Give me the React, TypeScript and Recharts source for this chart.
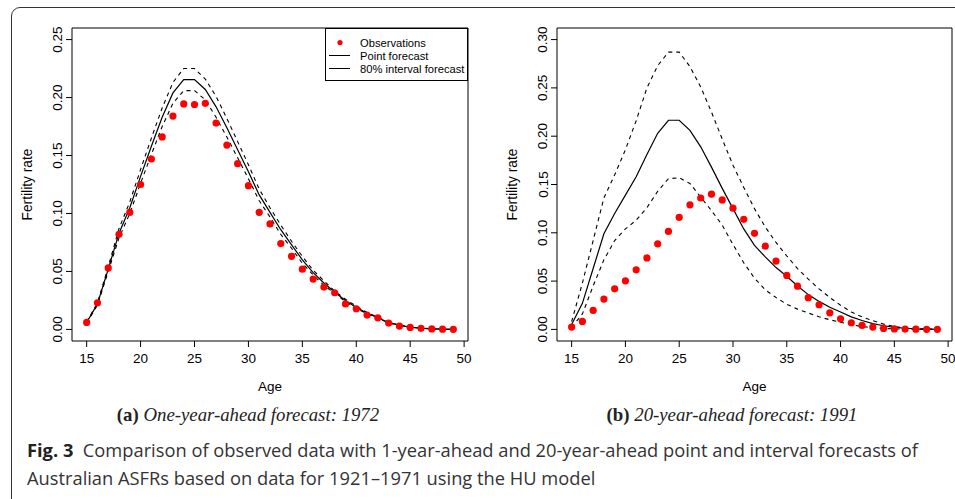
import React from 'react'
import { ComposedChart, Line, XAxis, YAxis, ReferenceArea, Legend } from 'recharts'

const ages = [15, 16, 17, 18, 19, 20, 21, 22, 23, 24, 25, 26, 27, 28, 29, 30, 31, 32, 33, 34, 35, 36, 37, 38, 39, 40, 41, 42, 43, 44, 45, 46, 47, 48, 49]
const xTicks = [15, 20, 25, 30, 35, 40, 45, 50]

// (a) one-year-ahead forecast: 1972
const obsA = [0.006, 0.023, 0.053, 0.082, 0.101, 0.125, 0.147, 0.166, 0.184, 0.1945, 0.194, 0.195, 0.178, 0.159, 0.143, 0.124, 0.101, 0.091, 0.074, 0.063, 0.052, 0.0434, 0.0365, 0.0316, 0.022, 0.0178, 0.0124, 0.01, 0.0055, 0.0029, 0.0017, 0.0009, 0.0004, 0.0002, 0.0001]
const pointA = [0.006, 0.022, 0.052, 0.083, 0.105, 0.132, 0.158, 0.183, 0.204, 0.2155, 0.2155, 0.207, 0.192, 0.174, 0.155, 0.136, 0.116, 0.101, 0.086, 0.073, 0.06, 0.049, 0.04, 0.032, 0.025, 0.019, 0.014, 0.01, 0.006, 0.0035, 0.002, 0.001, 0.0005, 0.0002, 0.0001]
const lowerA = [0.0055, 0.021, 0.05, 0.079, 0.1, 0.126, 0.151, 0.175, 0.195, 0.206, 0.206, 0.198, 0.183, 0.166, 0.148, 0.13, 0.111, 0.097, 0.082, 0.07, 0.057, 0.047, 0.038, 0.031, 0.024, 0.018, 0.0134, 0.0095, 0.0057, 0.0033, 0.0019, 0.0009, 0.0005, 0.0002, 0.0001]
const upperA = [0.0065, 0.023, 0.054, 0.087, 0.11, 0.138, 0.165, 0.191, 0.213, 0.225, 0.225, 0.216, 0.201, 0.182, 0.162, 0.142, 0.121, 0.105, 0.09, 0.076, 0.063, 0.051, 0.042, 0.033, 0.026, 0.02, 0.0146, 0.0105, 0.0063, 0.0037, 0.0021, 0.0011, 0.0005, 0.0002, 0.0001]
const yTicksA = [0, 0.05, 0.1, 0.15, 0.2, 0.25]

// (b) 20-year-ahead forecast: 1991
const obsB = [0.0024, 0.0083, 0.0197, 0.0314, 0.042, 0.0503, 0.0617, 0.074, 0.0886, 0.1014, 0.116, 0.129, 0.136, 0.14, 0.134, 0.1255, 0.114, 0.0995, 0.0862, 0.0707, 0.0559, 0.0448, 0.0328, 0.0255, 0.0172, 0.011, 0.0069, 0.0041, 0.0024, 0.001, 0.0005, 0.0003, 0.0002, 0.0001, 0.0001]
const pointB = [0.005, 0.027, 0.063, 0.099, 0.12, 0.139, 0.158, 0.181, 0.203, 0.2165, 0.2165, 0.206, 0.189, 0.168, 0.146, 0.125, 0.104, 0.087, 0.075, 0.064, 0.055, 0.045, 0.036, 0.029, 0.023, 0.018, 0.013, 0.0092, 0.006, 0.0038, 0.0022, 0.0012, 0.0006, 0.0003, 0.0001]
const lowerB = [0.002, 0.016, 0.045, 0.072, 0.092, 0.104, 0.113, 0.126, 0.143, 0.156, 0.157, 0.151, 0.137, 0.123, 0.108, 0.088, 0.069, 0.053, 0.041, 0.033, 0.026, 0.021, 0.017, 0.013, 0.01, 0.0074, 0.0048, 0.003, 0.0018, 0.001, 0.0005, 0.0003, 0.0001, 0, 0]
const upperB = [0.008, 0.048, 0.092, 0.136, 0.16, 0.186, 0.216, 0.25, 0.273, 0.287, 0.287, 0.272, 0.251, 0.225, 0.197, 0.17, 0.147, 0.125, 0.106, 0.09, 0.076, 0.063, 0.052, 0.042, 0.033, 0.025, 0.018, 0.013, 0.009, 0.0055, 0.003, 0.0017, 0.0009, 0.0004, 0.0002]
const yTicksB = [0, 0.05, 0.1, 0.15, 0.2, 0.25, 0.3]

const legendItems = ['Observations', 'Point forecast', '80% interval forecast']

const rows = (obs: number[], point: number[], lower: number[], upper: number[]) =>
  ages.map((age, i) => ({ age, obs: obs[i], point: point[i], lower: lower[i], upper: upper[i] }))

const AXIS_FONT = '"Liberation Sans", Arial, sans-serif'
const TOP = 28
const BOTTOM = 341

function PanelLegend() {
  return (
    <div
      style={{
        width: 143,
        height: 53,
        boxSizing: 'border-box',
        border: '1px solid #000',
        background: '#fff',
        fontFamily: AXIS_FONT,
        fontSize: 11.2,
        color: '#000',
        paddingTop: 7,
      }}
    >
      {legendItems.map((name, i) => (
        <div key={name} style={{ display: 'flex', alignItems: 'center', height: 13 }}>
          <svg width={34} height={13}>
            {i === 0 ? (
              <circle cx={14} cy={6.5} r={2.6} fill="#ff0000" />
            ) : (
              <line x1={3} x2={24} y1={6.5} y2={6.5} stroke="#000" strokeWidth={1} />
            )}
          </svg>
          <span>{name}</span>
        </div>
      ))}
    </div>
  )
}

interface PanelProps {
  data: ReturnType<typeof rows>
  yDomain: [number, number]
  yTicks: number[]
  width: number
  plotLeft: number
  plotRight: number
  legend?: boolean
}

function Panel({ data, yDomain, yTicks, width, plotLeft, plotRight, legend }: PanelProps) {
  const yAxisW = 40
  const midY = (TOP + BOTTOM) / 2
  const midX = (plotLeft + plotRight) / 2

  const YTick = ({ y, payload }: any) => {
    const bx = plotLeft - 9.5
    return (
      <text
        x={bx}
        y={y}
        transform={`rotate(-90 ${bx} ${y})`}
        textAnchor="middle"
        fontFamily={AXIS_FONT}
        fontSize={13.5}
        fill="#000"
      >
        {payload.value.toFixed(2)}
      </text>
    )
  }

  return (
    <ComposedChart
      width={width}
      height={400}
      data={data}
      margin={{ top: TOP, right: width - plotRight, left: plotLeft - yAxisW, bottom: 400 - BOTTOM - 30 }}
    >
      <XAxis
        dataKey="age"
        type="number"
        domain={[13.64, 50.36]}
        ticks={xTicks}
        allowDataOverflow
        axisLine={false}
        tickLine={{ stroke: '#000' }}
        tickSize={6}
        tickMargin={6}
        height={30}
        tick={{ fill: '#000', fontSize: 13.5, fontFamily: AXIS_FONT }}
        label={{
          content: () => (
            <text x={midX} y={390.5} textAnchor="middle" fontFamily={AXIS_FONT} fontSize={13.5} fill="#000">
              Age
            </text>
          ),
        }}
      />
      <YAxis
        type="number"
        domain={yDomain}
        ticks={yTicks}
        allowDataOverflow
        width={yAxisW}
        axisLine={false}
        tickLine={{ stroke: '#000' }}
        tickSize={6}
        tick={<YTick />}
        label={{
          content: () => (
            <text
              x={plotLeft - 40.5}
              y={midY}
              transform={`rotate(-90 ${plotLeft - 40.5} ${midY})`}
              textAnchor="middle"
              fontFamily={AXIS_FONT}
              fontSize={13.8}
              fill="#000"
            >
              Fertility rate
            </text>
          ),
        }}
      />
      <ReferenceArea
        x1={13.64}
        x2={50.36}
        y1={yDomain[0]}
        y2={yDomain[1]}
        fill="none"
        stroke="#000"
        strokeWidth={1}
        ifOverflow="visible"
      />
      <Line dataKey="upper" stroke="#000" strokeWidth={1.1} strokeDasharray="4 4" dot={false} activeDot={false} isAnimationActive={false} />
      <Line dataKey="lower" stroke="#000" strokeWidth={1.1} strokeDasharray="4 4" dot={false} activeDot={false} isAnimationActive={false} />
      <Line dataKey="point" stroke="#000" strokeWidth={1.2} dot={false} activeDot={false} isAnimationActive={false} />
      <Line
        dataKey="obs"
        stroke="none"
        dot={{ r: 3.6, fill: '#ff0000', stroke: 'none' }}
        activeDot={false}
        isAnimationActive={false}
      />
      {legend && (
        <Legend
          layout="vertical"
          align="center"
          verticalAlign="middle"
          content={() => <PanelLegend />}
          wrapperStyle={{ left: plotRight - 143, top: TOP, width: 143, height: 53 }}
        />
      )}
    </ComposedChart>
  )
}

const serif = '"Liberation Serif", "Times New Roman", serif'

function SubCaption({ label, text, cx }: { label: string; text: string; cx: number }) {
  return (
    <div
      style={{
        position: 'absolute',
        left: cx - 200,
        width: 400,
        top: 405,
        textAlign: 'center',
        fontFamily: serif,
        fontSize: 18.8,
        lineHeight: '19px',
        color: '#222',
        whiteSpace: 'nowrap',
      }}
    >
      <b>{label}</b> <i>{text}</i>
    </div>
  )
}

export default function App() {
  return (
    <div style={{ position: 'absolute', left: 0, top: 0, width: 955, height: 499, overflow: 'hidden', background: '#fff' }}>
      <div
        style={{
          position: 'absolute',
          left: 11,
          top: 7,
          width: 1200,
          height: 800,
          border: '1.6px solid #333',
          borderRadius: 9,
        }}
      />
      <div style={{ position: 'absolute', left: 0, top: 0 }}>
        <Panel data={rows(obsA, pointA, lowerA, upperA)} yDomain={[-0.01, 0.26]} yTicks={yTicksA} width={480} plotLeft={72} plotRight={468} legend />
      </div>
      <div style={{ position: 'absolute', left: 477, top: 0 }}>
        <Panel data={rows(obsB, pointB, lowerB, upperB)} yDomain={[-0.012, 0.312]} yTicks={yTicksB} width={478} plotLeft={80} plotRight={475} />
      </div>
      <SubCaption label="(a)" text="One-year-ahead forecast: 1972" cx={248} />
      <SubCaption label="(b)" text="20-year-ahead forecast: 1991" cx={732} />
      <div
        style={{
          position: 'absolute',
          left: 27,
          top: 436,
          fontFamily: '"Open Sans", sans-serif',
          fontSize: 18.3,
          lineHeight: '27.5px',
          color: '#333',
          whiteSpace: 'nowrap',
        }}
      >
        <div>
          <b style={{ color: '#222' }}>Fig. 3</b>&nbsp; Comparison of observed data with 1-year-ahead and 20-year-ahead point and interval forecasts of
        </div>
        <div>Australian ASFRs based on data for 1921–1971 using the HU model</div>
      </div>
    </div>
  )
}
